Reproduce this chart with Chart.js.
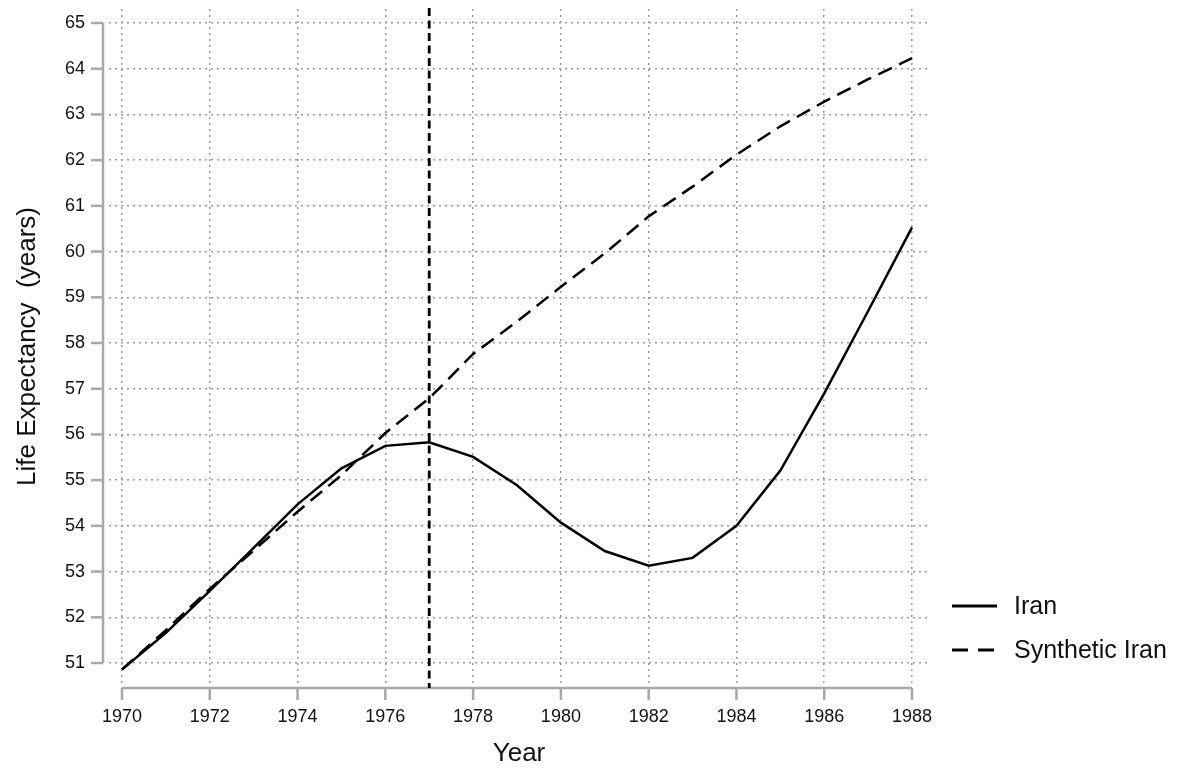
<!DOCTYPE html>
<html>
<head>
<meta charset="utf-8">
<script src="https://cdn.jsdelivr.net/npm/chart.js@4/dist/chart.umd.min.js"></script>
<style>
html,body{margin:0;padding:0;background:#fff;}
canvas{display:block;}
</style>
</head>
<body>
<canvas id="c" width="1186" height="771"></canvas>
<script>
const years = [1970,1971,1972,1973,1974,1975,1976,1977,1978,1979,1980,1981,1982,1983,1984,1985,1986,1987,1988];
const iran = [50.86,51.66,52.58,53.52,54.47,55.26,55.75,55.83,55.51,54.89,54.07,53.45,53.13,53.30,54.00,55.21,56.90,58.70,60.53];
const syntheticIran = [50.86,51.72,52.62,53.46,54.31,55.11,56.03,56.79,57.76,58.47,59.23,59.96,60.77,61.42,62.12,62.74,63.28,63.77,64.23];
const xTicks = [1970,1972,1974,1976,1978,1980,1982,1984,1986,1988];
const yTicks = [51,52,53,54,55,56,57,58,59,60,61,62,63,64,65];
const seriesLabels = ['Iran','Synthetic Iran'];
const treatmentYear = 1977;
const xTitle = 'Year';
const yTitle = 'Life Expectancy  (years)';

const FONT = '"Liberation Sans", Arial, Helvetica, sans-serif';
const AXIS_COLOR = '#a8a8a8';

const stataPlugin = {
  id: 'stataAxes',
  beforeDatasetsDraw(chart) {
    const {ctx, chartArea: a, scales: {x, y}} = chart;
    ctx.save();
    ctx.strokeStyle = AXIS_COLOR;
    ctx.lineWidth = 2.5;
    ctx.setLineDash([]);
    const ax = a.left - 6;
    ctx.beginPath();
    ctx.moveTo(ax, y.getPixelForValue(yTicks[0]));
    ctx.lineTo(ax, y.getPixelForValue(yTicks[yTicks.length - 1]));
    ctx.stroke();
    yTicks.forEach(v => {
      const py = y.getPixelForValue(v);
      ctx.beginPath(); ctx.moveTo(ax - 12, py); ctx.lineTo(ax, py); ctx.stroke();
    });
    const ay = a.bottom + 4;
    ctx.beginPath();
    ctx.moveTo(x.getPixelForValue(xTicks[0]), ay);
    ctx.lineTo(x.getPixelForValue(xTicks[xTicks.length - 1]), ay);
    ctx.stroke();
    xTicks.forEach(v => {
      const px = x.getPixelForValue(v);
      ctx.beginPath(); ctx.moveTo(px, ay); ctx.lineTo(px, ay + 12); ctx.stroke();
    });
    ctx.restore();
  },
  afterDatasetsDraw(chart) {
    const {ctx, chartArea: a, scales: {x}} = chart;
    ctx.save();
    const vx = x.getPixelForValue(treatmentYear);
    ctx.strokeStyle = '#000';
    ctx.lineWidth = 2.8;
    ctx.setLineDash([8, 4.5]);
    ctx.beginPath();
    ctx.moveTo(vx, a.top - 1);
    ctx.lineTo(vx, a.bottom + 4);
    ctx.stroke();
    const ds = chart.data.datasets;
    const ys = [a.bottom - 78, a.bottom - 34];
    ctx.font = '25px ' + FONT;
    ctx.textBaseline = 'middle';
    ctx.textAlign = 'left';
    ds.forEach((d, i) => {
      ctx.strokeStyle = d.borderColor;
      ctx.lineWidth = 2.8;
      ctx.setLineDash(d.borderDash && d.borderDash.length ? [16, 10] : []);
      ctx.beginPath();
      ctx.moveTo(a.right + 23, ys[i]);
      ctx.lineTo(a.right + 68, ys[i]);
      ctx.stroke();
      ctx.fillStyle = '#111';
      ctx.fillText(d.label, a.right + 85, ys[i] + 1);
    });
    ctx.restore();
  }
};

const toPts = arr => years.map((yr, i) => ({x: yr, y: arr[i]}));

new Chart(document.getElementById('c'), {
  type: 'line',
  data: {
    datasets: [
      {label: seriesLabels[0], data: toPts(iran), borderColor: '#000', borderWidth: 2.5, pointRadius: 0, tension: 0, fill: false},
      {label: seriesLabels[1], data: toPts(syntheticIran), borderColor: '#000', borderWidth: 2.5, borderDash: [15, 8], pointRadius: 0, tension: 0, fill: false}
    ]
  },
  options: {
    responsive: false,
    animation: false,
    layout: {padding: {top: 9, right: 257, left: 0, bottom: 0}},
    plugins: {legend: {display: false}, tooltip: {enabled: false}},
    scales: {
      x: {
        type: 'linear',
        min: 1969.704,
        max: 1988.387,
        afterBuildTicks: s => { s.ticks = xTicks.map(v => ({value: v})); },
        afterFit: s => { s.height = 87; s.paddingLeft = 0; s.paddingRight = 0; },
        grid: {color: '#9a9a9a', lineWidth: 1.5, drawTicks: false},
        border: {display: false, dash: [2, 4]},
        ticks: {padding: 22, color: '#111', font: {family: FONT, size: 18}, maxRotation: 0, autoSkip: false, callback: v => String(v)},
        title: {display: true, text: xTitle, color: '#111', font: {family: FONT, size: 26}, padding: {top: 0, bottom: 1.4}}
      },
      y: {
        type: 'linear',
        min: 50.541,
        max: 65.306,
        afterBuildTicks: s => { s.ticks = yTicks.map(v => ({value: v})); },
        afterFit: s => { s.width = 109; s.paddingTop = 0; s.paddingBottom = 0; },
        grid: {color: '#9a9a9a', lineWidth: 1.5, drawTicks: false},
        border: {display: false, dash: [2, 4]},
        ticks: {padding: 24, color: '#111', font: {family: FONT, size: 18}, autoSkip: false, callback: v => String(v)},
        title: {display: true, text: yTitle, color: '#111', font: {family: FONT, size: 26}, padding: {top: 12, bottom: 0}}
      }
    }
  },
  plugins: [stataPlugin]
});
</script>
</body>
</html>
